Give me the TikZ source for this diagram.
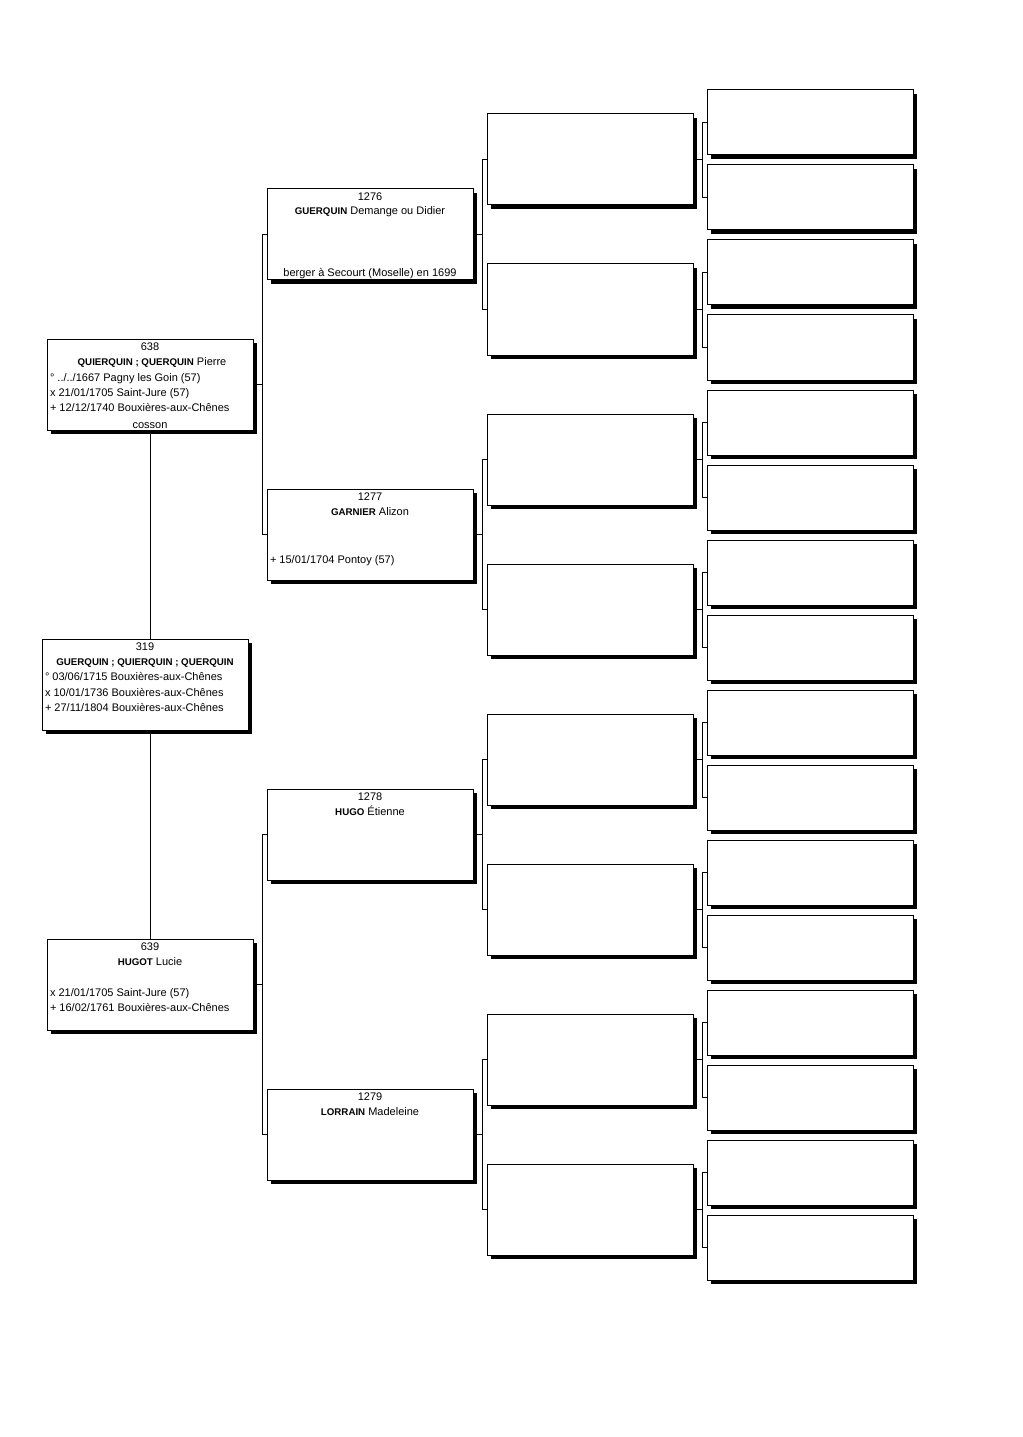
\documentclass[tikz,border=0pt]{standalone}
\usepackage{fontspec}
\setmainfont{Liberation Sans}
\usetikzlibrary{shadows,backgrounds,calc}
\newcommand\nm[1]{{\fontsize{7.3}{9}\selectfont\bfseries #1}}
\begin{document}
\begin{tikzpicture}[x=0.75pt,y=-0.75pt,
  box/.style={draw=black, line width=0.75pt, fill=white, anchor=north west,
    minimum width=154.5pt, minimum height=68.25pt, inner sep=0pt, outer sep=0pt,
    drop shadow={fill=black, opacity=1, shadow xshift=3pt, shadow yshift=-3pt}},
  smallbox/.style={box, minimum height=48.75pt},
  txt/.style={inner sep=0pt, outer sep=0pt, font=\fontsize{8.25}{9}\selectfont, anchor=base},
  ltxt/.style={txt, anchor=base west},
  conn/.style={draw=black, line width=0.75pt}]
\useasboundingbox (0,0) rectangle (1022,1437);

% boxes
\node[box] (b638) at (47,339) {};
\node[box] (b319) at (42,639) {};
\node[box] (b639) at (47,939) {};
\node[box] (b1276) at (267,189) {};
\node[box] (b1277) at (267,489) {};
\node[box] (b1278) at (267,789) {};
\node[box] (b1279) at (267,1089) {};
\foreach \k in {0,...,7} \node[box] (c3-\k) at (487,{114+150*\k}) {};
\foreach \m in {0,...,15} \node[smallbox] (c4-\m) at (707,{90+75*\m}) {};

% texts 638
\node[txt] (t638n) at ($(b638.north)+(0,11.5)$) {638};
\node[txt] (t638p) at ($(b638.north)+(2,26)$) {\nm{QUIERQUIN ; QUERQUIN} Pierre};
\node[ltxt] (t638b) at ($(b638.north west)+(3,42)$) {° ../../1667 Pagny les Goin (57)};
\node[ltxt] (t638m) at ($(b638.north west)+(3,57)$) {x 21/01/1705 Saint-Jure (57)};
\node[ltxt] (t638d) at ($(b638.north west)+(3,72.5)$) {+ 12/12/1740 Bouxières-aux-Chênes};
\node[txt] (t638o) at ($(b638.north)+(0,89)$) {cosson};

% texts 319
\node[txt] (t319n) at ($(b319.north)+(0,11.5)$) {319};
\node[txt] (t319p) at ($(b319.north)+(0,26)$) {\nm{GUERQUIN ; QUIERQUIN ; QUERQUIN}};
\node[ltxt] (t319b) at ($(b319.north west)+(3,41.5)$) {° 03/06/1715 Bouxières-aux-Chênes};
\node[ltxt] (t319m) at ($(b319.north west)+(3,57)$) {x 10/01/1736 Bouxières-aux-Chênes};
\node[ltxt] (t319d) at ($(b319.north west)+(3,72)$) {+ 27/11/1804 Bouxières-aux-Chênes};

% texts 639
\node[txt] (t639n) at ($(b639.north)+(0,11.5)$) {639};
\node[txt] (t639p) at ($(b639.north)+(0,26)$) {\nm{HUGOT} Lucie};
\node[ltxt] (t639m) at ($(b639.north west)+(3,57)$) {x 21/01/1705 Saint-Jure (57)};
\node[ltxt] (t639d) at ($(b639.north west)+(3,72)$) {+ 16/02/1761 Bouxières-aux-Chênes};

% texts col 2
\node[txt] (t1276n) at ($(b1276.north)+(0,11.5)$) {1276};
\node[txt] (t1276p) at ($(b1276.north)+(0,26)$) {\nm{GUERQUIN} Demange ou Didier};
\node[txt] (t1276o) at ($(b1276.north)+(0,88)$) {berger à Secourt (Moselle) en 1699};
\node[txt] (t1277n) at ($(b1277.north)+(0,11.5)$) {1277};
\node[txt] (t1277p) at ($(b1277.north)+(0,26)$) {\nm{GARNIER} Alizon};
\node[ltxt] (t1277d) at ($(b1277.north west)+(3,74)$) {+ 15/01/1704 Pontoy (57)};
\node[txt] (t1278n) at ($(b1278.north)+(0,11.5)$) {1278};
\node[txt] (t1278p) at ($(b1278.north)+(0,26)$) {\nm{HUGO} Étienne};
\node[txt] (t1279n) at ($(b1279.north)+(0,11.5)$) {1279};
\node[txt] (t1279p) at ($(b1279.north)+(0,26)$) {\nm{LORRAIN} Madeleine};

% connectors
\begin{scope}[on background layer]
\fill[white] (0,0) rectangle (1022,1437);
\coordinate (j1) at (262.3,0);
\coordinate (j2) at (482.3,0);
\coordinate (j3) at (702.3,0);
\draw[conn] (b638.south) -- (b638.south |- b319.north);
\draw[conn] (b639.north |- b319.south) -- (b639.north);
\draw[conn] (b638.east) -- (j1 |- b638.east);
\draw[conn] (b1276.west) -- (j1 |- b1276.west) -- (j1 |- b1277.west) -- (b1277.west);
\draw[conn] (b639.east) -- (j1 |- b639.east);
\draw[conn] (b1278.west) -- (j1 |- b1278.west) -- (j1 |- b1279.west) -- (b1279.west);
\foreach \p/\a/\b in {b1276/0/1, b1277/2/3, b1278/4/5, b1279/6/7} {
  \draw[conn] (\p.east) -- (j2 |- \p.east);
  \draw[conn] (c3-\a.west) -- (j2 |- c3-\a.west) -- (j2 |- c3-\b.west) -- (c3-\b.west);
}
\foreach \k [evaluate=\k as \a using {int(2*\k)}, evaluate=\k as \b using {int(2*\k+1)}] in {0,...,7} {
  \draw[conn] (c3-\k.east) -- (j3 |- c3-\k.east);
  \draw[conn] (c4-\a.west) -- (j3 |- c4-\a.west) -- (j3 |- c4-\b.west) -- (c4-\b.west);
}
\end{scope}
\end{tikzpicture}
\end{document}
